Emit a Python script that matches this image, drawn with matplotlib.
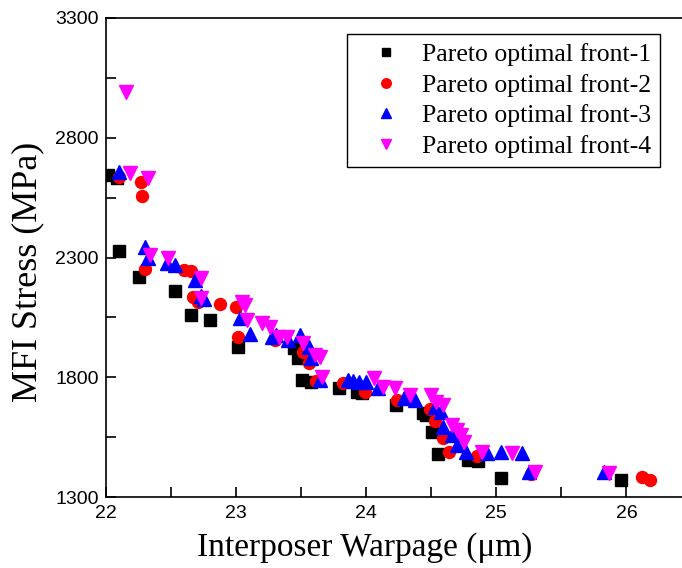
import matplotlib
matplotlib.use("Agg")
import matplotlib.pyplot as plt
from matplotlib.ticker import MultipleLocator, FixedLocator

# Pareto fronts: warpage (um) vs MFI stress (MPa)
front1_x = [22.02, 22.09, 22.10, 22.26, 22.53, 22.66, 22.80, 23.02, 23.45, 23.48, 23.51,
            23.58, 23.79, 23.93, 23.97, 24.23, 24.44, 24.46, 24.51, 24.55, 24.78, 24.86,
            25.04, 25.96]
front1_y = [2644, 2630, 2327, 2220, 2161, 2060, 2038, 1925, 1921, 1879, 1789,
            1779, 1756, 1740, 1735, 1684, 1649, 1642, 1573, 1481, 1454, 1452,
            1381, 1371]

front2_x = [22.10, 22.27, 22.28, 22.30, 22.60, 22.66, 22.67, 22.71, 22.88, 23.00, 23.02,
            23.30, 23.52, 23.56, 23.62, 23.82, 23.99, 24.24, 24.49, 24.53, 24.59, 24.64,
            24.85, 25.27, 26.12, 26.18]
front2_y = [2637, 2617, 2557, 2251, 2248, 2245, 2136, 2115, 2106, 2094, 1968,
            1954, 1907, 1858, 1785, 1778, 1740, 1705, 1666, 1617, 1545, 1487,
            1473, 1397, 1385, 1373]

front3_x = [22.10, 22.30, 22.33, 22.47, 22.53, 22.69, 22.73, 22.76, 23.03, 23.11, 23.28,
            23.31, 23.40, 23.49, 23.56, 23.58, 23.65, 23.86, 23.90, 23.95, 24.00, 24.09,
            24.29, 24.38, 24.53, 24.58, 24.59, 24.66, 24.70, 24.77, 24.93, 25.04, 25.20,
            25.25, 25.83]
front3_y = [2655, 2345, 2298, 2276, 2269, 2206, 2140, 2125, 2046, 1981, 1969,
            1975, 1956, 1976, 1928, 1879, 1789, 1789, 1786, 1781, 1781, 1754,
            1712, 1705, 1677, 1656, 1594, 1559, 1517, 1489, 1482, 1489, 1482,
            1406, 1406]

front4_x = [22.16, 22.19, 22.33, 22.34, 22.48, 22.73, 22.73, 23.05, 23.07, 23.09, 23.20,
            23.26, 23.33, 23.39, 23.52, 23.61, 23.65, 23.66, 24.06, 24.13, 24.22, 24.34,
            24.50, 24.54, 24.59, 24.66, 24.70, 24.73, 24.75, 24.89, 25.12, 25.30, 25.87]
front4_y = [2992, 2653, 2631, 2310, 2297, 2213, 2130, 2115, 2102, 2039, 2025,
            2011, 1969, 1969, 1942, 1893, 1886, 1802, 1796, 1761, 1754, 1726,
            1726, 1698, 1684, 1601, 1580, 1559, 1531, 1489, 1482, 1406, 1399]

labels = ["Pareto optimal front-1", "Pareto optimal front-2",
          "Pareto optimal front-3", "Pareto optimal front-4"]

y_major = [1300, 1800, 2300, 2800, 3300]
y_minor = [1550, 2050, 2550, 3050]

W, H = 682, 568
fig = plt.figure(figsize=(W / 100, H / 100), dpi=100)
# axes box: x 22..26.5 spans past the right edge of the figure
ax = fig.add_axes([105.5 / W, 71 / H, 586 / W, 479 / H])

ax.plot(front1_x, front1_y, linestyle="none", marker="s", ms=8.0, color="black",
        mec="black", label=labels[0])
ax.plot(front2_x, front2_y, linestyle="none", marker="o", ms=8.6, color="#ff0000",
        mec="#ff0000", label=labels[1])
ax.plot(front3_x, front3_y, linestyle="none", marker="^", ms=9.6, color="#0000ff",
        mec="#0000ff", label=labels[2])
ax.plot(front4_x, front4_y, linestyle="none", marker="v", ms=9.6, color="#ff00ff",
        mec="#ff00ff", label=labels[3])

ax.set_xlim(22, 26.5)
ax.set_ylim(1300, 3300)
ax.xaxis.set_major_locator(MultipleLocator(1))
ax.xaxis.set_minor_locator(MultipleLocator(0.5))
ax.yaxis.set_major_locator(FixedLocator(y_major))
ax.yaxis.set_minor_locator(FixedLocator(y_minor))

for s in ax.spines.values():
    s.set_linewidth(1.2)
ax.tick_params(which="both", direction="in", length=7, width=1.2,
               top=False, right=False, labelsize=14)
for lab in ax.get_xticklabels() + ax.get_yticklabels():
    lab.set_fontfamily("Liberation Sans")
ax.tick_params(axis="x", pad=6)
ax.tick_params(axis="y", pad=5)

ax.set_xlabel("Interposer Warpage (\u03bcm)", fontfamily="Liberation Serif",
              fontsize=24)
ax.set_ylabel("MFI Stress (MPa)", fontfamily="Liberation Serif", fontsize=26)
ax.xaxis.set_label_coords((365 - 105.5) / 586, -(548 - 497) / 479)
ax.yaxis.set_label_coords(-(105.5 - 28) / 586, (497 - 272) / 479)
ax.xaxis.label.set_va("center")
ax.yaxis.label.set_va("center")

leg = ax.legend(loc="upper left", bbox_to_anchor=(347 / W, 1 - 34 / H),
                bbox_transform=fig.transFigure, borderaxespad=0,
                prop={"family": "Liberation Serif", "size": 18.5},
                frameon=True, fancybox=False, shadow=False, framealpha=1,
                edgecolor="black", markerscale=0.8, handlelength=2.3,
                handletextpad=0.27, borderpad=0.35, labelspacing=0.3)
leg.get_frame().set_linewidth(1.0)

fig.savefig("out.png", dpi=100)
